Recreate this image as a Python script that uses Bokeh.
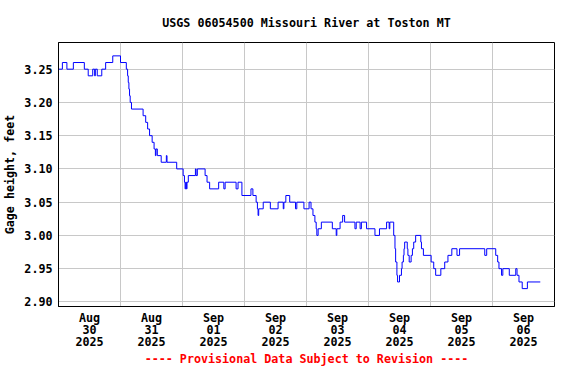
import pandas as pd
from bokeh.plotting import figure
from bokeh.models import Range1d, FixedTicker, PrintfTickFormatter
from bokeh.embed import file_html
from bokeh.resources import INLINE

# hours since 2025-08-30 00:00 at which the gage height changes
hours = [0.0, 1.5, 3.25, 5.75, 10.0, 11.5, 13.25, 14.0, 14.25, 15.0, 16.75, 18.25, 21.0, 24.0,
         26.25, 26.75, 27.0, 27.25, 27.5, 27.75, 28.25, 32.75, 33.75, 34.5, 35.25, 36.25, 37.0,
         37.5, 37.75, 38.25, 39.75, 41.75, 42.0, 45.75, 48.25, 48.75, 49.0, 49.25, 49.5, 49.75,
         50.25, 53.0, 53.25, 53.75, 56.75, 57.5, 58.5, 62.0, 64.0, 64.5, 68.75, 69.5, 71.0, 74.5,
         75.25, 76.5, 77.0, 77.25, 77.5, 79.25, 82.0, 85.0, 87.0, 87.25, 88.0, 89.5, 91.75, 92.25,
         95.0, 97.0, 97.75, 98.5, 99.25, 99.75, 100.0, 100.5, 101.75, 106.0, 107.5, 107.75, 109.0,
         110.0, 110.75, 114.75, 115.25, 116.75, 117.25, 119.25, 122.5, 124.25, 127.0, 128.0,
         128.25, 129.75, 130.25, 130.5, 131.0, 131.25, 132.0, 132.75, 133.0, 133.5, 133.75,
         134.0, 135.0, 135.25, 135.75, 136.5, 137.0, 137.5, 138.25, 140.25, 140.5, 141.25,
         144.25, 145.25, 146.0, 148.0, 149.5, 150.75, 152.25, 154.25, 155.25, 165.0, 165.75,
         169.25, 170.0, 170.5, 171.5, 172.0, 174.5, 177.0, 177.5, 178.25, 179.5, 181.5, 186.5]
gage = [3.25, 3.26, 3.25, 3.26, 3.25, 3.24, 3.25, 3.24, 3.25, 3.24, 3.25, 3.26, 3.27, 3.26,
        3.25, 3.24, 3.23, 3.22, 3.21, 3.20, 3.19, 3.18, 3.17, 3.16, 3.15, 3.14, 3.13,
        3.12, 3.13, 3.12, 3.11, 3.12, 3.11, 3.10, 3.09, 3.08, 3.07, 3.08, 3.07, 3.08,
        3.09, 3.10, 3.09, 3.10, 3.09, 3.08, 3.07, 3.08, 3.07, 3.08, 3.07, 3.08, 3.06, 3.07,
        3.06, 3.05, 3.04, 3.03, 3.04, 3.05, 3.04, 3.05, 3.04, 3.05, 3.06, 3.05, 3.04, 3.05,
        3.04, 3.05, 3.04, 3.03, 3.02, 3.01, 3.00, 3.01, 3.02, 3.01, 3.00, 3.01, 3.02,
        3.03, 3.02, 3.01, 3.02, 3.01, 3.02, 3.01, 3.00, 3.01, 3.02, 3.01,
        3.02, 3.00, 2.98, 2.96, 2.94, 2.93, 2.94, 2.95, 2.96, 2.97, 2.98,
        2.99, 2.98, 2.97, 2.96, 2.97, 2.98, 2.99, 3.00, 2.99, 2.98, 2.97,
        2.96, 2.95, 2.94, 2.95, 2.96, 2.97, 2.98, 2.97, 2.98, 2.97, 2.98,
        2.97, 2.96, 2.95, 2.94, 2.95, 2.94, 2.95, 2.94, 2.93, 2.92, 2.93, 2.93]

day_labels = ["Aug\n30\n2025", "Aug\n31\n2025", "Sep\n01\n2025", "Sep\n02\n2025",
              "Sep\n03\n2025", "Sep\n04\n2025", "Sep\n05\n2025", "Sep\n06\n2025"]
y_ticks = [2.90, 2.95, 3.00, 3.05, 3.10, 3.15, 3.20, 3.25]

FONT = "DejaVu Sans Mono"
FS = "11.7px"

start = pd.Timestamp("2025-08-30")
end = start + pd.Timedelta(days=8)
times = [start + pd.Timedelta(hours=h) for h in hours]

def ms(ts):
    return float(ts.value // 10**6)

noon_ticks = [ms(start + pd.Timedelta(hours=12 + 24 * i)) for i in range(len(day_labels))]
midnights = [ms(start + pd.Timedelta(days=i)) for i in range(1, len(day_labels))]

Y0, Y1 = 2.8931, 3.2901

p = figure(width=560, height=368, x_axis_type="datetime", output_backend="svg",
           toolbar_location=None,
           x_range=Range1d(start, end), y_range=Range1d(Y0, Y1),
           min_border_left=58, min_border_right=6, min_border_top=42, min_border_bottom=56)

p.title.text = "USGS 06054500 Missouri River at Toston MT"
p.title.align = "center"
p.title.offset = 4
p.title.standoff = 26
p.title.text_font = FONT
p.title.text_font_size = FS
p.title.text_font_style = "bold"
p.title.text_color = "black"

p.step(times, gage, mode="after", line_color="#0000FF", line_width=1)

p.outline_line_color = "black"
p.outline_line_width = 1
p.outline_line_alpha = 1

p.xaxis.ticker = FixedTicker(ticks=noon_ticks)
p.xaxis.major_label_overrides = {t: lab for t, lab in zip(noon_ticks, day_labels)}
p.xaxis.major_tick_line_color = None
p.xaxis.minor_tick_line_color = None
p.xaxis.major_tick_out = 0
p.xaxis.major_label_standoff = 4
p.xaxis.major_label_text_line_height = 0.86
p.xaxis.axis_label = "---- Provisional Data Subject to Revision ----"
p.xaxis.axis_label_standoff = 0
p.xaxis.axis_label_text_line_height = 0.9

p.yaxis.ticker = FixedTicker(ticks=y_ticks)
p.yaxis.formatter = PrintfTickFormatter(format="%.2f")
p.yaxis.minor_tick_line_color = None
p.yaxis.major_tick_out = 0
p.yaxis.major_tick_in = 0
p.yaxis.major_label_standoff = 6
p.yaxis.axis_label = "Gage height, feet"
p.yaxis.axis_label_standoff = 4

for ax in (p.xaxis, p.yaxis):
    ax.axis_line_color = "black"
    ax.major_label_text_font = FONT
    ax.major_label_text_font_size = FS
    ax.major_label_text_font_style = "bold"
    ax.major_label_text_color = "black"
    ax.axis_label_text_font = FONT
    ax.axis_label_text_font_size = FS
    ax.axis_label_text_font_style = "bold"
    ax.axis_label_text_color = "black"
p.xaxis.axis_label_text_color = "red"

p.xgrid.ticker = FixedTicker(ticks=midnights)
p.ygrid.ticker = FixedTicker(ticks=y_ticks)
for g in (p.xgrid, p.ygrid):
    g.grid_line_color = "#c8c8c8"
    g.grid_line_width = 1

open("out.html", "w").write(file_html(p, INLINE))
